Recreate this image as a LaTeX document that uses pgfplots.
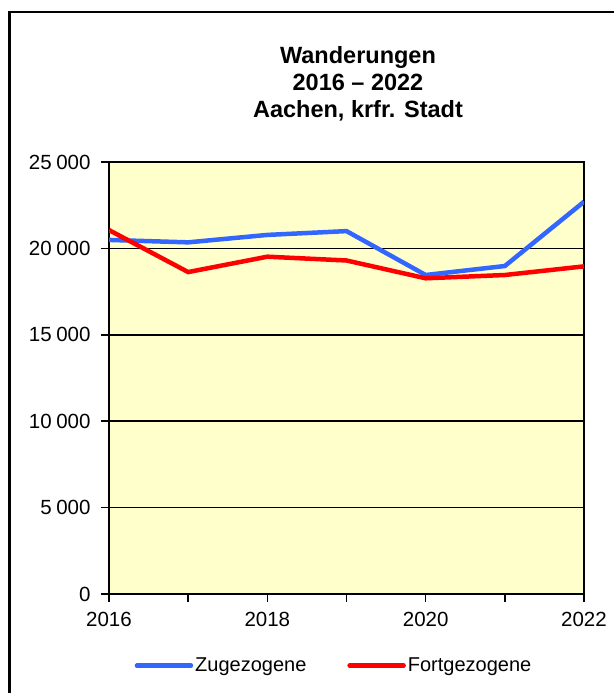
\documentclass[border=0pt]{standalone}
\usepackage{pgfplots}
\pgfplotsset{compat=1.18}
\usepackage{fontspec}
\setmainfont{Liberation Sans}
\definecolor{zublue}{RGB}{51,102,255}
\definecolor{fortred}{RGB}{255,0,0}
\definecolor{plotbg}{RGB}{255,255,204}
\begin{document}
\begin{tikzpicture}[x=1pt,y=1pt]
\useasboundingbox (0,0) rectangle (613,693);
\draw[line width=2.2pt] (9.5,-20) -- (9.5,681) -- (640,681);
\node[font=\bfseries\fontsize{23.5}{27}\selectfont, align=center] at (358,609) {Wanderungen\\2016 – 2022\\Aachen, krfr. Stadt};
\begin{axis}[
  at={(109pt,99pt)}, anchor=south west, scale only axis,
  width=475pt, height=432pt,
  xmin=2016, xmax=2022, ymin=0, ymax=25000,
  xtick={2016,2018,2020,2022}, minor xtick={2017,2019,2021},
  ytick={0,5000,...,25000},
  scaled ticks=false,
  tick align=outside, major tick length=8pt, minor tick length=8pt,
  every tick/.style={black, line width=1.5pt},
  tick pos=left,
  ymajorgrids, grid style={black, line width=1.6pt},
  axis line style={line width=2.2pt},
  axis background/.style={fill=plotbg},
  /pgf/number format/assume math mode=true,
  /pgf/number format/1000 sep={\hspace{0.22em}},
  ticklabel style={font=\fontsize{20.5}{24}\selectfont},
  xticklabel style={/pgf/number format/1000 sep={}, yshift=-7pt},
  yticklabel style={xshift=-7pt},
  legend style={draw=none, fill=none, at={(0.4737,-0.166)}, anchor=center,
    font=\fontsize{20}{24}\selectfont, nodes={inner sep=2pt},
    /tikz/every even column/.append style={column sep=39pt}},
  legend columns=2,
  legend image code/.code={\draw[#1,line cap=round] (0pt,0pt) -- (54pt,0pt);},
]
\addplot[zublue, line width=4.5pt] coordinates {
  (2016,20490) (2017,20350) (2018,20780) (2019,21000) (2020,18460) (2021,18980) (2022,22700)};
\addlegendentry{Zugezogene}
\addplot[fortred, line width=4.5pt] coordinates {
  (2016,21060) (2017,18630) (2018,19520) (2019,19300) (2020,18270) (2021,18460) (2022,18960)};
\addlegendentry{Fortgezogene}
\end{axis}
\end{tikzpicture}
\end{document}
